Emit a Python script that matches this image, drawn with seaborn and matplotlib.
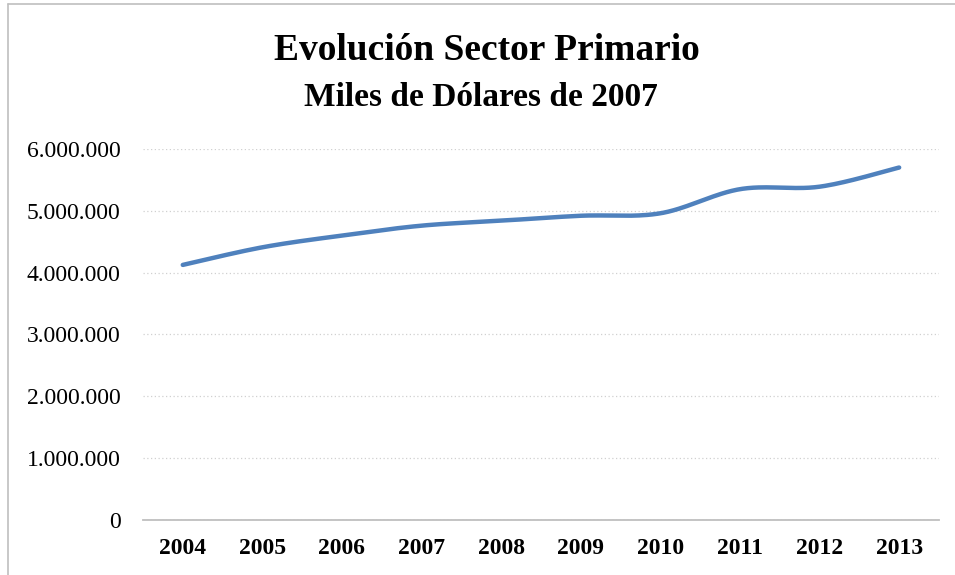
import numpy as np
import pandas as pd
import matplotlib
matplotlib.use("Agg")
import matplotlib.pyplot as plt
from matplotlib.lines import Line2D
from matplotlib.ticker import FuncFormatter, MultipleLocator
import seaborn as sns

# Data (thousands of 2007 dollars)
years = ["2004", "2005", "2006", "2007", "2008", "2009", "2010", "2011", "2012", "2013"]
primary_sector = [4125000, 4410000, 4600000, 4760000, 4840000, 4920000, 4960000, 5350000, 5390000, 5700000]

title = "Evolución Sector Primario"
subtitle = "Miles de Dólares de 2007"
line_color = "#4F81BD"
grid_color = "#D0D0D0"
axis_color = "#BFBFBF"


def smooth_path(xs, ys, steps=30):
    """
    Excel-like smoothed line: cubic Bezier segments with
    Catmull-Rom control points between the data points.
    """
    xs = np.asarray(xs, dtype=float)
    ys = np.asarray(ys, dtype=float)
    n = len(xs)
    out_x, out_y = [], []
    for i in range(n - 1):
        p0 = (xs[max(i - 1, 0)], ys[max(i - 1, 0)])
        p1 = (xs[i], ys[i])
        p2 = (xs[i + 1], ys[i + 1])
        p3 = (xs[min(i + 2, n - 1)], ys[min(i + 2, n - 1)])
        c1 = (p1[0] + (p2[0] - p0[0]) / 6, p1[1] + (p2[1] - p0[1]) / 6)
        c2 = (p2[0] - (p3[0] - p1[0]) / 6, p2[1] - (p3[1] - p1[1]) / 6)
        t = np.linspace(0, 1, steps, endpoint=(i == n - 2))
        a, b, c, d = (1 - t) ** 3, 3 * (1 - t) ** 2 * t, 3 * (1 - t) * t ** 2, t ** 3
        out_x.extend(a * p1[0] + b * c1[0] + c * c2[0] + d * p2[0])
        out_y.extend(a * p1[1] + b * c1[1] + c * c2[1] + d * p2[1])
    return np.array(out_x), np.array(out_y)


def thousands(v, pos):
    return f"{int(round(v)):,}".replace(",", ".")


sns.set_theme(style="white")
plt.rcParams["font.family"] = ["Liberation Serif", "DejaVu Serif"]
plt.rcParams["text.color"] = "black"
plt.rcParams["xtick.color"] = "black"
plt.rcParams["ytick.color"] = "black"

fig = plt.figure(figsize=(9.55, 5.75), dpi=100)
ax = fig.add_axes([0.1497, 0.0957, 0.8335, 0.6452])

positions = np.arange(len(years))
sx, sy = smooth_path(positions, primary_sector)
curve = pd.DataFrame({"x": sx, "y": sy})
sns.lineplot(data=curve, x="x", y="y", ax=ax, color=line_color, linewidth=3.2,
             solid_capstyle="round", sort=False)

ax.set_xlim(-0.5, len(years) - 0.5)
ax.set_ylim(0, 6000000)
ax.yaxis.set_major_locator(MultipleLocator(1000000))
ax.yaxis.set_major_formatter(FuncFormatter(thousands))
ax.set_xticks(positions)
ax.set_xticklabels(years, fontweight="bold")
ax.set_xlabel("")
ax.set_ylabel("")

# dotted horizontal gridlines, solid gray category axis
ax.grid(axis="y", color=grid_color, linestyle=(0, (1, 2)), linewidth=0.9)
ax.grid(axis="x", visible=False)
for side in ["left", "right", "top"]:
    ax.spines[side].set_visible(False)
ax.spines["bottom"].set_color(axis_color)
ax.spines["bottom"].set_linewidth(1.3)
ax.tick_params(axis="x", length=3, width=0.8, color=axis_color, labelcolor="black",
               pad=10, labelsize=17)
ax.tick_params(axis="y", length=0, pad=16, labelsize=17, labelcolor="black")

title_y = 1 - 60 / 575
subtitle_y = 1 - 106 / 575
fig.text(487 / 955, title_y, title, ha="center", va="baseline", fontsize=27,
         fontweight="bold", color="black")
fig.text(481 / 955, subtitle_y, subtitle, ha="center", va="baseline", fontsize=24,
         fontweight="bold", color="black")

# chart area border (left and top edges visible in the crop)
fig.add_artist(Line2D([0.0084, 0.0084], [0.0, 0.993], transform=fig.transFigure,
                      color=axis_color, linewidth=1.2))
fig.add_artist(Line2D([0.0084, 1.0], [0.993, 0.993], transform=fig.transFigure,
                      color=axis_color, linewidth=1.2))

fig.savefig("out.png", dpi=100, facecolor="white")
